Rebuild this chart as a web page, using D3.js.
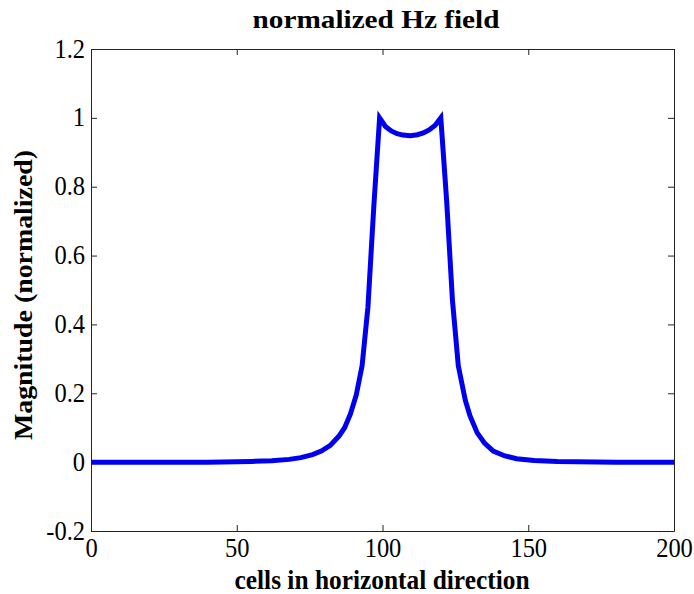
<!DOCTYPE html>
<html>
<head>
<meta charset="utf-8">
<script src="https://cdn.jsdelivr.net/npm/d3@7"></script>
<style>
  body { margin: 0; background: #fff; }
  svg { display: block; }
  .axis text { font-family: "Liberation Serif", "DejaVu Serif", "Times New Roman", serif; font-size: 24.5px; fill: #000; }
  .axis path, .axis line { stroke: #222; }
  .label { font-family: "Liberation Serif", "DejaVu Serif", "Times New Roman", serif; font-weight: bold; fill: #000; }
</style>
</head>
<body>
<div id="chart"></div>
<script>
// values
const cells = [0, 20, 40, 55, 62, 68, 72, 76, 79, 82, 85, 87, 89, 91, 93, 95, 97, 98, 99,
  101, 103, 105, 107, 109.5, 112, 114, 116, 118, 120,
  122, 124, 126, 128.4, 130, 132.5, 135, 138, 142, 146, 152, 160, 180, 200];
const hz = [0, 0, 0, 0.002, 0.004, 0.008, 0.013, 0.022, 0.032, 0.048, 0.075, 0.10, 0.14, 0.195, 0.28, 0.45, 0.74, 0.87, 1.0,
  0.975, 0.962, 0.954, 0.95, 0.948, 0.951, 0.956, 0.965, 0.978, 1.0,
  0.76, 0.47, 0.28, 0.18, 0.135, 0.085, 0.055, 0.032, 0.018, 0.01, 0.005, 0.002, 0, 0];
const xTicks = [0, 50, 100, 150, 200];
const yTicks = [-0.2, 0, 0.2, 0.4, 0.6, 0.8, 1, 1.2];

const width = 694;
const height = 594;
const margin = { top: 49, right: 20, bottom: 63, left: 91 };
const stretch = 1.12; // glyphs in the picture are a bit taller than wide

const svg = d3.select('#chart')
  .append('svg')
  .attr('width', width)
  .attr('height', height);

const xScale = d3.scaleLinear().domain([0, 200]).range([margin.left, width - margin.right]);
const yScale = d3.scaleLinear().domain([-0.2, 1.2]).range([height - margin.bottom, margin.top]);

const fmt = (d) => String(Math.round(d * 10) / 10);

// axes with ticks pointing inward, on all four sides
svg.append('g')
  .attr('class', 'axis')
  .attr('transform', `translate(0, ${height - margin.bottom})`)
  .call(d3.axisBottom(xScale).tickValues(xTicks).tickSizeInner(-6).tickSizeOuter(0))
  .call(g => g.selectAll('text')
    .attr('y', 26 / stretch)
    .attr('dy', 0)
    .attr('transform', `scale(1, ${stretch})`));

svg.append('g')
  .attr('class', 'axis')
  .attr('transform', `translate(0, ${margin.top})`)
  .call(d3.axisTop(xScale).tickValues(xTicks).tickSizeInner(-6).tickSizeOuter(0).tickFormat(''));

svg.append('g')
  .attr('class', 'axis')
  .attr('transform', `translate(${margin.left}, 0)`)
  .call(d3.axisLeft(yScale).tickValues(yTicks).tickSizeInner(-6).tickSizeOuter(0).tickFormat(fmt))
  .call(g => g.selectAll('text')
    .attr('x', -6)
    .attr('y', 8 / stretch)
    .attr('dy', 0)
    .attr('transform', `scale(1, ${stretch})`));

svg.append('g')
  .attr('class', 'axis')
  .attr('transform', `translate(${width - margin.right}, 0)`)
  .call(d3.axisRight(yScale).tickValues(yTicks).tickSizeInner(-6).tickSizeOuter(0).tickFormat(''));

// the curve
const points = cells.map((c, i) => ({ x: c, y: hz[i] }));
const line = d3.line().x(d => xScale(d.x)).y(d => yScale(d.y));

svg.append('path')
  .datum(points)
  .attr('fill', 'none')
  .attr('stroke', '#0000ee')
  .attr('stroke-width', 5)
  .attr('stroke-linejoin', 'miter')
  .attr('d', line);

// labels
svg.append('text')
  .attr('class', 'label')
  .attr('transform', 'translate(376, 28)')
  .attr('text-anchor', 'middle')
  .attr('textLength', 247)
  .attr('lengthAdjust', 'spacingAndGlyphs')
  .style('font-size', '26px')
  .text('normalized Hz field');

svg.append('text')
  .attr('class', 'label')
  .attr('transform', 'translate(382, 589)')
  .attr('text-anchor', 'middle')
  .attr('textLength', 295)
  .attr('lengthAdjust', 'spacingAndGlyphs')
  .style('font-size', '27px')
  .text('cells in horizontal direction');

svg.append('text')
  .attr('class', 'label')
  .attr('transform', 'translate(32, 295) rotate(-90)')
  .attr('text-anchor', 'middle')
  .attr('textLength', 290)
  .attr('lengthAdjust', 'spacingAndGlyphs')
  .style('font-size', '26px')
  .text('Magnitude (normalized)');
</script>
</body>
</html>
